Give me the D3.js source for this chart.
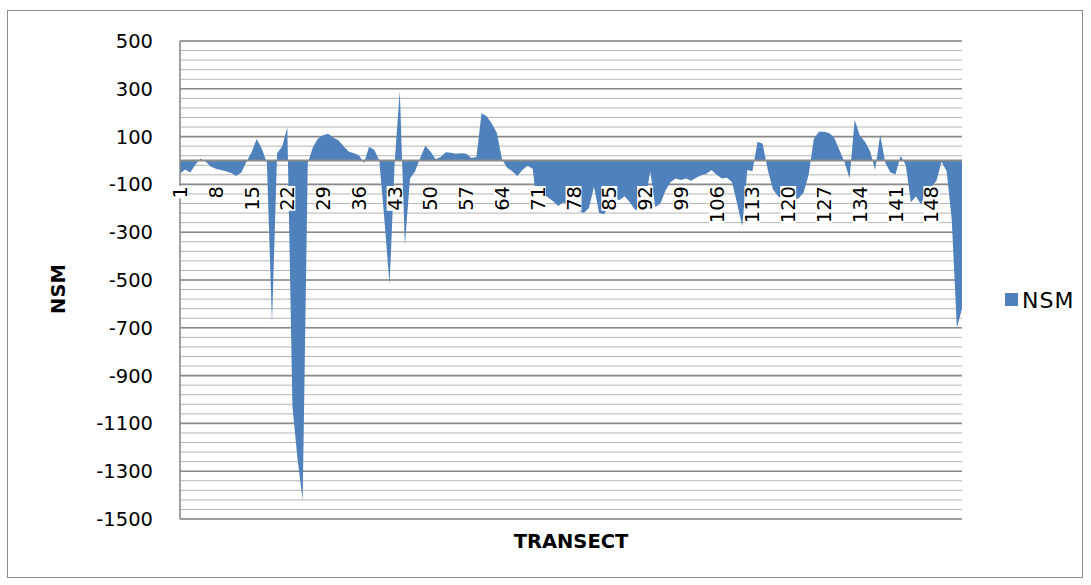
<!DOCTYPE html>
<html>
<head>
<meta charset="utf-8">
<script src="https://cdn.jsdelivr.net/npm/d3@7/dist/d3.min.js"></script>
<style>
  html, body { margin: 0; padding: 0; background: #fff; }
  svg { display: block; }
  text { font-family: "DejaVu Sans", "Liberation Sans", sans-serif; fill: #000; }
</style>
</head>
<body>
<svg id="chart" width="1091" height="585"></svg>
<script>
// Net shoreline movement (NSM) per transect
const transects = d3.range(1, 155);
const nsm = [
  -55, -38, -50, -18, 8, -4, -25, -35, -40, -45,
  -52, -65, -50, -5, 35, 90, 50, -10, -680, 30,
  60, 138, -1030, -1250, -1420, -10, 55, 92, 106, 112,
  95, 85, 60, 38, 30, 22, -10, 58, 45, 0,
  -250, -520, -10, 293, -355, -75, -45, 10, 62, 38,
  5, 15, 35, 32, 28, 30, 28, 10, 15, 198,
  185, 155, 115, 5, -30, -45, -65, -40, -22, -35,
  -215, -140, -155, -170, -190, -175, -190, -205, -210, -220,
  -200, -110, -220, -225, -180, -160, -165, -150, -175, -205,
  -210, -180, -45, -195, -180, -125, -90, -75, -82, -75,
  -85, -72, -62, -55, -40, -60, -75, -72, -90, -180,
  -275, -40, -45, 78, 70, -40, -120, -150, -162, -170,
  -168, -158, -135, -60, 90, 120, 120, 115, 95, 45,
  -5, -75, 170, 105, 80, 40, -40, 108, -10, -50,
  -58, 20, -20, -175, -150, -185, -120, -110, -85, -5,
  -45, -250, -700, -620
];
const yTicks = d3.range(500, -1501, -200);      // labelled values
const yGrid = d3.range(500, -1501, -40);        // fine grid lines
const xTickLabels = d3.range(1, 155, 7);        // every 7th transect
const seriesName = "NSM";
const xTitle = "TRANSECT";
const yTitle = "NSM";

const svg = d3.select("#chart");
const plot = { left: 180, right: 962, top: 41, bottom: 519 };

const x = d3.scaleLinear().domain([1, transects.length]).range([plot.left, plot.right]);
const y = d3.scaleLinear().domain([-1500, 500]).range([plot.bottom, plot.top]);

// outer frame
svg.append("rect")
  .attr("x", 7.5).attr("y", 10.5).attr("width", 1075).attr("height", 567)
  .attr("fill", "none").attr("stroke", "#8c8c8c").attr("stroke-width", 1);

// grid
svg.append("g").selectAll("line").data(yGrid).join("line")
  .attr("x1", plot.left).attr("x2", plot.right)
  .attr("y1", d => y(d)).attr("y2", d => y(d))
  .attr("stroke", "#b4b4b4").attr("stroke-width", 1);
svg.append("g").selectAll("line").data(yTicks).join("line")
  .attr("x1", plot.left).attr("x2", plot.right)
  .attr("y1", d => y(d)).attr("y2", d => y(d))
  .attr("stroke", "#8a8a8a").attr("stroke-width", 1.6);

// area series
const area = d3.area()
  .x((d, i) => x(transects[i]))
  .y0(y(0))
  .y1(d => y(d));
svg.append("path").datum(nsm)
  .attr("d", area)
  .attr("fill", "#4f81bd");

// value axis line
svg.append("line")
  .attr("x1", plot.left).attr("x2", plot.left)
  .attr("y1", plot.top).attr("y2", plot.bottom)
  .attr("stroke", "#8a8a8a").attr("stroke-width", 1.6);

// category axis line at zero
svg.append("line")
  .attr("x1", plot.left).attr("x2", plot.right)
  .attr("y1", y(0)).attr("y2", y(0))
  .attr("stroke", "#8a8a8a").attr("stroke-width", 1.8);

// y tick labels
svg.append("g").selectAll("text").data(yTicks).join("text")
  .attr("x", 153).attr("y", d => y(d))
  .attr("dy", "0.36em")
  .attr("text-anchor", "end")
  .attr("font-size", 19.5)
  .text(d => d);

// x tick labels, rotated, each on a tight white box
const xLab = svg.append("g");
xTickLabels.forEach(t => {
  const g = xLab.append("g")
    .attr("transform", `translate(${x(t)},186) rotate(-90)`);
  const txt = g.append("text")
    .attr("x", 0).attr("y", 0)
    .attr("dy", "0.36em")
    .attr("text-anchor", "end")
    .attr("font-size", 19.5)
    .text(t);
  const bb = txt.node().getBBox();
  g.insert("rect", "text")
    .attr("x", bb.x).attr("y", -8)
    .attr("width", bb.width).attr("height", 16)
    .attr("fill", "#fff");
});

// axis titles
svg.append("text")
  .attr("transform", "translate(58,289) rotate(-90)")
  .attr("dy", "0.36em")
  .attr("text-anchor", "middle")
  .attr("font-size", 19.5).attr("font-weight", "bold")
  .text(yTitle);
svg.append("text")
  .attr("x", 571).attr("y", 548)
  .attr("text-anchor", "middle")
  .attr("font-size", 19.5).attr("font-weight", "bold")
  .text(xTitle);

// legend
svg.append("rect")
  .attr("x", 1005).attr("y", 293).attr("width", 13).attr("height", 13)
  .attr("fill", "#4f81bd");
svg.append("text")
  .attr("x", 1022).attr("y", 300)
  .attr("dy", "0.36em")
  .attr("font-size", 22)
  .attr("letter-spacing", 1)
  .text(seriesName);
</script>
</body>
</html>
